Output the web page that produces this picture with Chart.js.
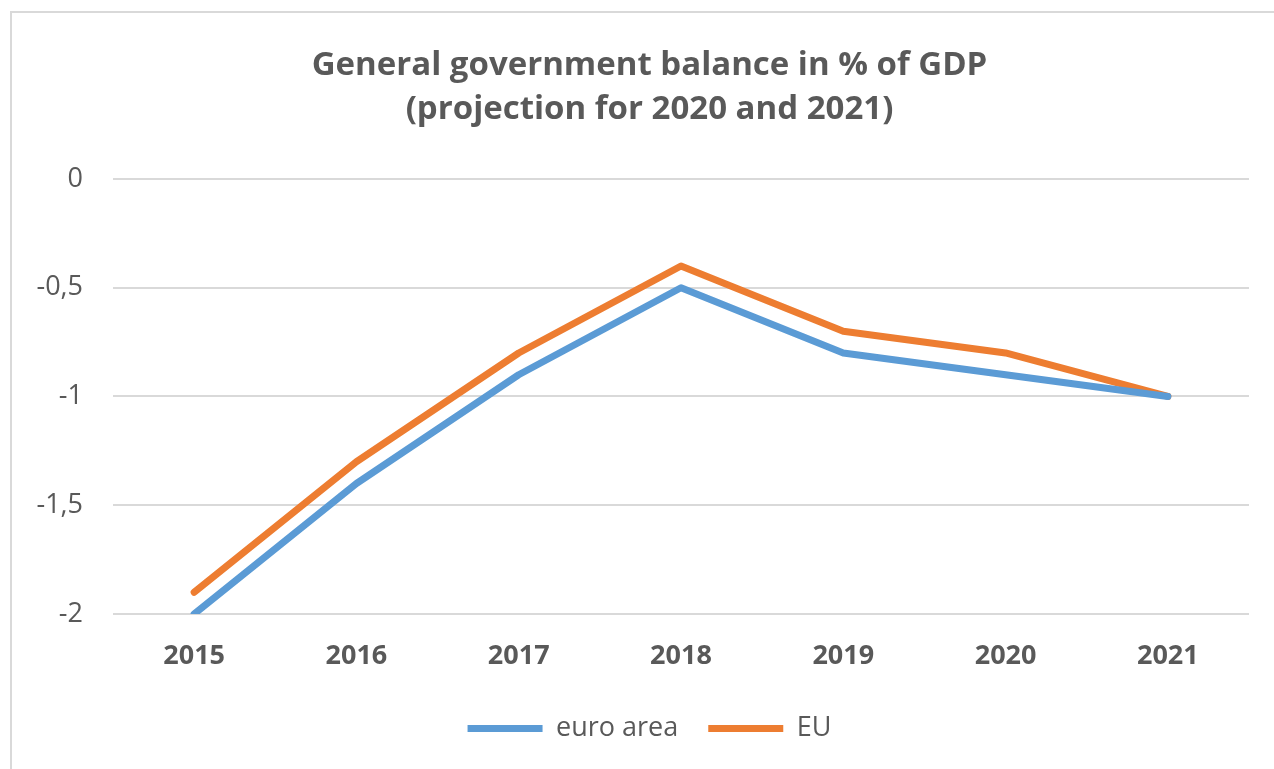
<!DOCTYPE html>
<html>
<head>
<meta charset="utf-8">
<script src="https://cdn.jsdelivr.net/npm/chart.js@4/dist/chart.umd.min.js"></script>
<style>
  html, body { margin: 0; padding: 0; background: #fff; overflow: hidden; }
  #frame {
    position: absolute; left: 10px; top: 11px;
    width: 1290px; height: 790px;
    border: 2px solid #d9d9d9; box-sizing: border-box;
  }
  #wrap { position: absolute; left: 12px; top: 13px; width: 1275px; height: 756px; }
</style>
</head>
<body>
<div id="frame"></div>
<div id="wrap"><canvas id="balanceChart"></canvas></div>
<script>
const years = ['2015', '2016', '2017', '2018', '2019', '2020', '2021'];
const euroArea = [-2.0, -1.4, -0.9, -0.5, -0.8, -0.9, -1.0];
const eu = [-1.9, -1.3, -0.8, -0.4, -0.7, -0.8, -1.0];
const yTicks = [0, -0.5, -1, -1.5, -2];

const textColor = '#595959';
const font = "'Open Sans', sans-serif";

const ctx = document.getElementById('balanceChart').getContext('2d');
new Chart(ctx, {
  type: 'line',
  data: {
    labels: years,
    datasets: [
      {
        label: 'euro area',
        data: euroArea,
        borderColor: '#5b9bd5',
        backgroundColor: '#5b9bd5',
        borderWidth: 7,
        borderCapStyle: 'round',
        borderJoinStyle: 'round',
        pointRadius: 0,
        tension: 0
      },
      {
        label: 'EU',
        data: eu,
        borderColor: '#ed7d31',
        backgroundColor: '#ed7d31',
        borderWidth: 7,
        borderCapStyle: 'round',
        borderJoinStyle: 'round',
        pointRadius: 0,
        tension: 0
      }
    ]
  },
  options: {
    responsive: true,
    maintainAspectRatio: false,
    animation: false,
    layout: { padding: { left: 0, right: 0, top: 0, bottom: 17 } },
    plugins: {
      title: {
        display: true,
        text: ['General government balance in % of GDP', '(projection for 2020 and 2021)'],
        color: textColor,
        font: { family: font, size: 33, weight: 'bold', lineHeight: 1.333 },
        padding: { top: 31, bottom: 47 }
      },
      legend: {
        position: 'bottom',
        labels: {
          color: textColor,
          font: { family: font, size: 27 },
          boxWidth: 75,
          boxHeight: 7,
          useBorderRadius: true,
          borderRadius: 3.5,
          padding: 30,
          generateLabels(chart) {
            return chart.data.datasets.map((ds, i) => ({
              text: ds.label,
              fillStyle: ds.borderColor,
              strokeStyle: ds.borderColor,
              lineWidth: 0,
              fontColor: textColor,
              datasetIndex: i
            }));
          }
        }
      },
      tooltip: { enabled: false }
    },
    scales: {
      x: {
        offset: true,
        grid: { display: false, drawTicks: false },
        border: { display: false },
        ticks: {
          color: textColor,
          font: { family: font, size: 27, weight: 'bold' },
          padding: 26,
          maxRotation: 0
        },
        afterFit(scale) { scale.height = 71; }
      },
      y: {
        min: -2,
        max: 0,
        afterBuildTicks(scale) { scale.ticks = yTicks.map(v => ({ value: v })); },
        grid: { color: '#d9d9d9', lineWidth: 2, drawTicks: false },
        border: { display: false },
        ticks: {
          color: textColor,
          font: { family: font, size: 27 },
          padding: 30,
          callback: v => String(v).replace('.', ',')
        },
        afterFit(scale) { scale.width = 101; }
      },
      // empty right-hand gutter so the plot ends before the frame edge
      gutter: {
        type: 'linear',
        position: 'right',
        grid: { drawOnChartArea: false, drawTicks: false },
        border: { display: false },
        ticks: { display: false },
        afterFit(scale) { scale.width = 38; }
      }
    }
  }
});
</script>
</body>
</html>
